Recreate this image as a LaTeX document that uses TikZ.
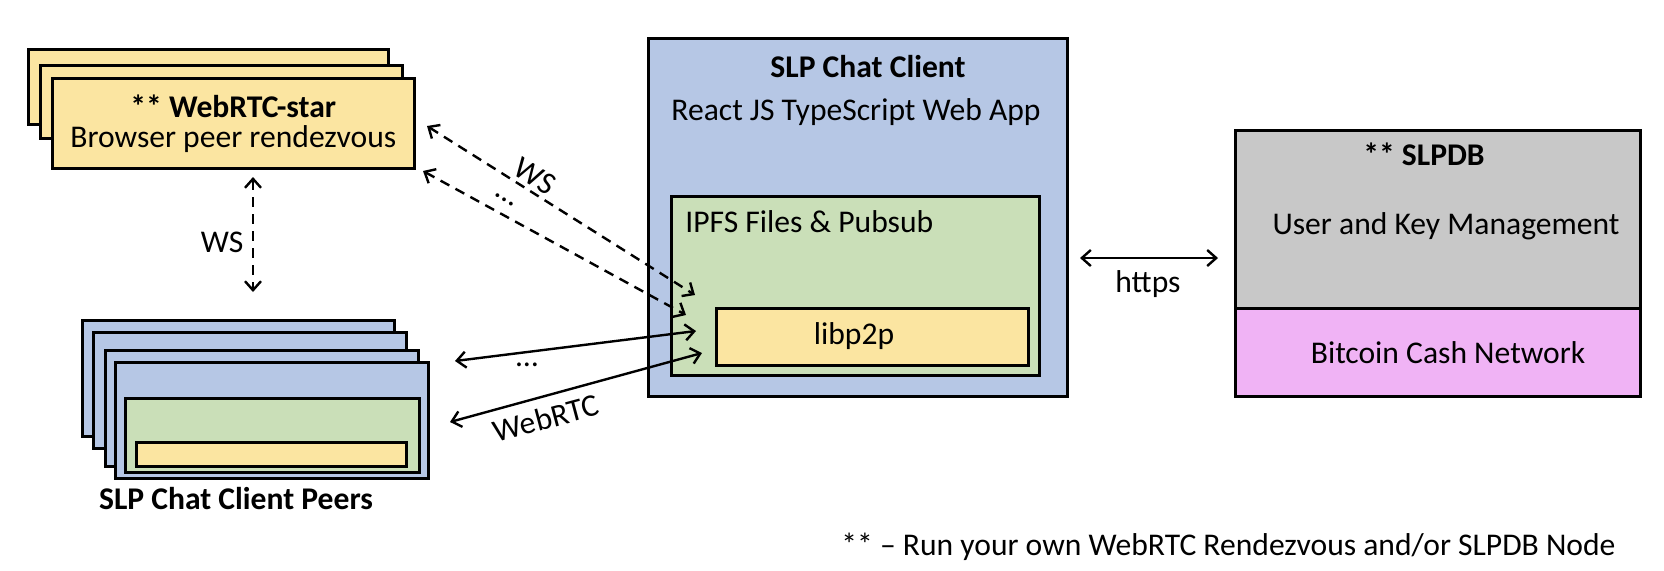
\documentclass[tikz,border=0pt]{standalone}
\usepackage{fontspec}
\setmainfont{Carlito}
\usetikzlibrary{arrows.meta}

\definecolor{starfill}{HTML}{FBE5A1}
\definecolor{clientfill}{HTML}{B6C7E5}
\definecolor{ipfsfill}{HTML}{CADFB8}
\definecolor{dbfill}{HTML}{C8C8C8}
\definecolor{bchfill}{HTML}{F0B3F5}

\begin{document}
\begin{tikzpicture}[x=0.5pt, y=-0.5pt,
    >={Straight Barb[length=4.5pt,width=8pt]},
    every node/.style={font=\fontsize{15.8}{15}\selectfont},
    box/.style={draw, line width=1.3pt, inner sep=0pt, anchor=north west},
    link/.style={<->, line width=1.2pt},
    wslink/.style={link, dash pattern=on 5pt off 3.5pt}]

    \useasboundingbox (0,0) rectangle (1664,570);

    % WebRTC-star stack
    \node[box, fill=starfill, minimum width=180pt, minimum height=37.5pt] (starC) at (27,48) {};
    \node[box, fill=starfill, minimum width=181pt, minimum height=36.5pt] (starB) at (39,64) {};
    \node[box, fill=starfill, minimum width=181pt, minimum height=45pt, align=center] (starA) at (51,77)
        {\textbf{** WebRTC-star}\\Browser peer rendezvous};

    % SLP Chat Client
    \node[box, fill=clientfill, minimum width=209.5pt, minimum height=179pt] (client) at (647,37) {};
    \node[font=\fontsize{15.8}{15}\selectfont\bfseries] (clientT) at (868,67) {SLP Chat Client};
    \node (clientS) at (856,112) {React JS TypeScript Web App};
    \node[box, fill=ipfsfill, minimum width=184pt, minimum height=89.5pt] (ipfs) at (670,195) {};
    \node[anchor=west, inner sep=0pt] (ipfsT) at (685,222) {IPFS Files \& Pubsub};
    \node[box, fill=starfill, minimum width=156pt, minimum height=28.5pt] (libp) at (715,307) {};
    \node (libpT) at (854,336) {libp2p};

    % SLPDB
    \node[box, fill=dbfill, minimum width=202.5pt, minimum height=89pt] (slpdb) at (1234,129) {};
    \node[box, fill=bchfill, minimum width=202.5pt, minimum height=44pt] (bch) at (1234,307) {};
    \node[font=\fontsize{15.8}{15}\selectfont\bfseries] (slpdbT) at (1424,154) {** SLPDB};
    \node (slpdbS) at (1446,226) {User and Key Management};
    \node (bchT) at (1448,353) {Bitcoin Cash Network};

    % Peers stack
    \node[box, fill=clientfill, minimum width=156pt, minimum height=58pt] (peerD) at (81,319) {};
    \node[box, fill=clientfill, minimum width=156.5pt, minimum height=58pt] (peerC) at (92,331) {};
    \node[box, fill=clientfill, minimum width=156.5pt, minimum height=58pt] (peerB) at (104,349) {};
    \node[box, fill=clientfill, minimum width=156.5pt, minimum height=58pt] (peerA) at (114,361) {};
    \node[box, fill=ipfsfill, minimum width=147pt, minimum height=37pt] (peerIpfs) at (124,397) {};
    \node[box, fill=starfill, minimum width=135pt, minimum height=12pt] (peerLibp) at (135,441) {};
    \node[font=\fontsize{15.8}{15}\selectfont\bfseries] (peersT) at (236,499) {SLP Chat Client Peers};

    % Arrow ends
    \coordinate (wsTop) at (253,177);
    \coordinate (wsBot) at (253,292);
    \coordinate (starW1) at (427,126);
    \coordinate (libpW1) at (695,295);
    \coordinate (starW2) at (423,171);
    \coordinate (libpW2) at (686,315);
    \coordinate (peerR1) at (455,361);
    \coordinate (libpR1) at (696,331);
    \coordinate (peerR2) at (450,422);
    \coordinate (libpR2) at (702,353);
    \coordinate (clientH) at (1080,258);
    \coordinate (slpdbH) at (1218,258);

    % Draw the links
    \draw[wslink] (wsTop) -- (wsBot);
    \draw[wslink] (starW1) -- (libpW1);
    \draw[wslink] (starW2) -- (libpW2);
    \draw[link] (peerR1) -- (libpR1);
    \draw[link] (peerR2) -- (libpR2);
    \draw[link] (clientH) -- (slpdbH);

    % Label the links
    \node (wsL) at (222,242) {WS};
    \node[rotate=-32, inner sep=0pt] (wsD) at (535,176) {WS};
    \node[rotate=-32, inner sep=0pt] (wsDots) at (505,200) {…};
    \node[inner sep=0pt] (rtcDots) at (527,365) {…};
    \node[rotate=15, inner sep=0pt] (rtcL) at (546,418) {WebRTC};
    \node (httpsL) at (1148,284) {https};

    % Footnote
    \node[anchor=west, inner sep=0pt] (note) at (841,547) {** – Run your own WebRTC Rendezvous and/or SLPDB Node};

\end{tikzpicture}
\end{document}
